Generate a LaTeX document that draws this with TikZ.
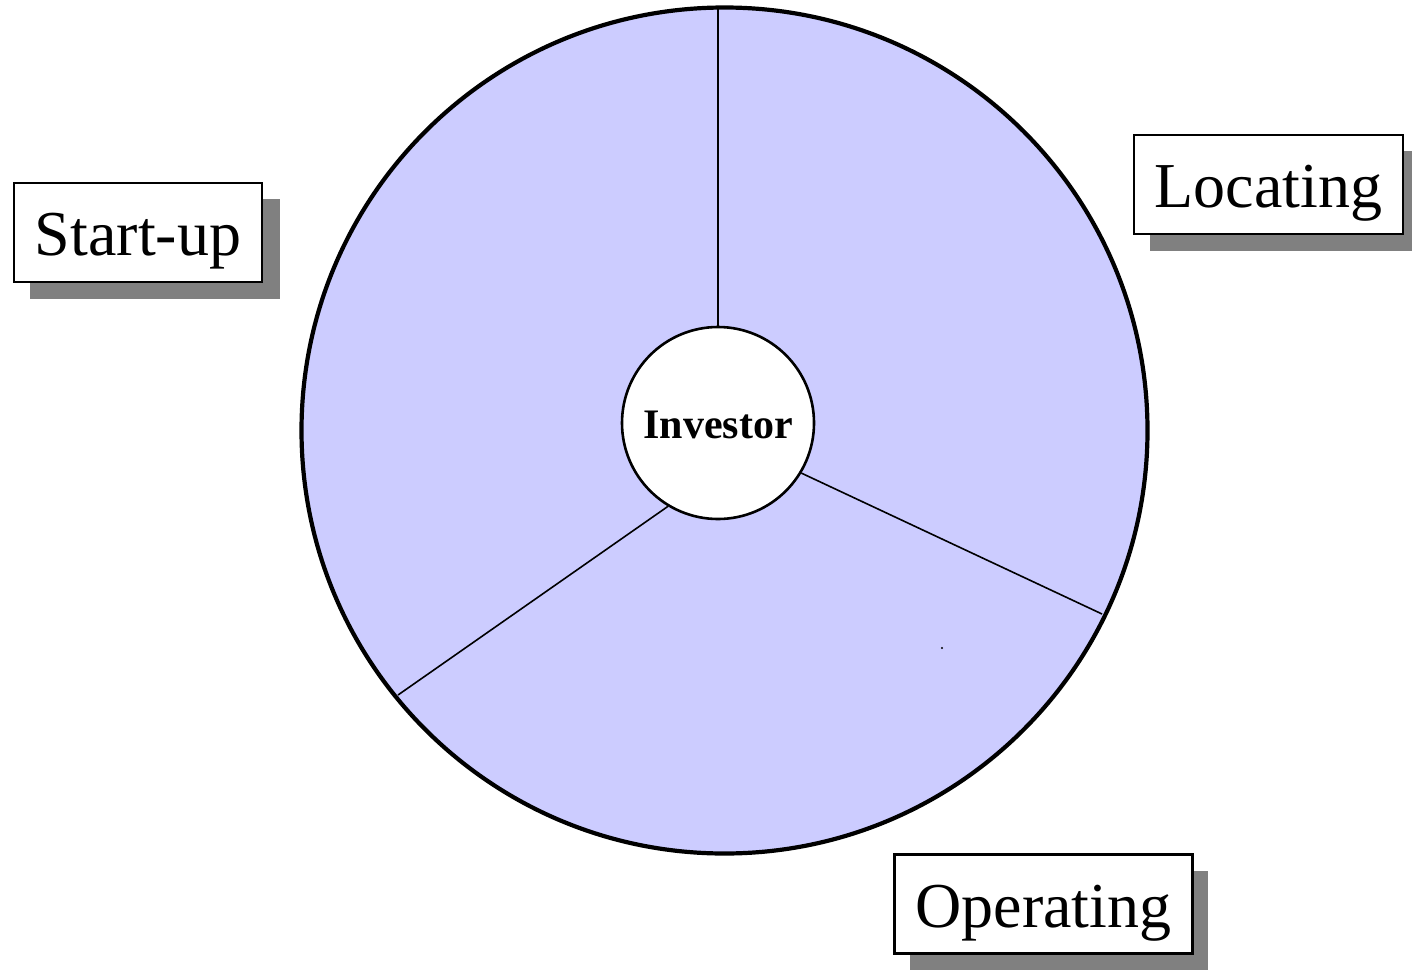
\documentclass[tikz,border=0pt]{standalone}
\usepackage{fontspec}
\setmainfont{Liberation Serif}
\begin{document}
\begin{tikzpicture}[x=1pt,y=-1pt,
  wheel/.style={draw=black,line width=4.2pt,fill=wheelfill},
  hub/.style={circle,draw=black,line width=2.6pt,fill=white,minimum size=192pt,inner sep=0pt,
    text height=36pt,text depth=6pt,
    font=\fontsize{42}{46}\selectfont\bfseries},
  spoke/.style={draw=black,line width=1.6pt},
  phase/.style={draw=black,line width=2.6pt,fill=white,inner sep=0pt,
    text height=56pt,text depth=10pt,
    font=\fontsize{64}{70}\selectfont},
  shadowbox/.style={fill=shadowgray,draw=none}]
\definecolor{wheelfill}{HTML}{CCCCFF}
\definecolor{shadowgray}{HTML}{808080}
\useasboundingbox (0,0) rectangle (1412,969);
\clip (0,0) rectangle (1412,969);

% outer wheel
\draw[wheel] (724.5,430.5) circle[radius=423];

% hub
\node[hub] (hub) at (718,423) {Investor};

% spoke end points on the rim
\coordinate (rimtop) at (718,8);
\coordinate (rimright) at (1102,614);
\coordinate (rimleft) at (398,695);
\draw[spoke] (hub.north) -- (rimtop);
\draw[spoke] (hub.-31) -- (rimright);
\draw[spoke] (hub.-121) -- (rimleft);

% stray dot
\fill (942,648) circle[radius=1.2];

% phase labels with drop shadows
\fill[shadowbox] (30,199) rectangle (280,299);
\node[phase,minimum width=248pt,minimum height=99pt] (startup) at (138,232.5) {Start-up};

\fill[shadowbox] (1150,151) rectangle (1420,251);
\node[phase,minimum width=269pt,minimum height=99pt] (locating) at (1268.5,184.5) {Locating};

\fill[shadowbox] (910,871) rectangle (1208,975);
\node[phase,minimum width=298pt,minimum height=99pt] (operating) at (1043.5,904) {Operating};
\end{tikzpicture}
\end{document}
